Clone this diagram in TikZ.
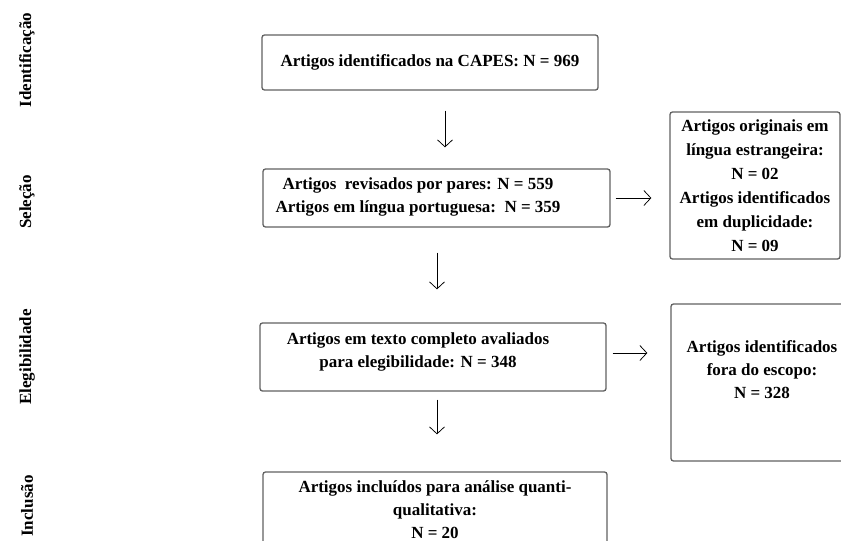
\documentclass[tikz,border=0pt]{standalone}
\usepackage{fontspec}
\setmainfont{Liberation Serif}
\usetikzlibrary{arrows.meta}
\tikzset{
box/.style={draw=black!62, line width=1.3pt, rounded corners=2.5pt, inner sep=0pt},
txt/.style={font=\bfseries\fontsize{17}{23}\selectfont, align=center, inner sep=0pt},
fase/.style={txt, rotate=90},
seta/.style={line width=0.75pt, -{Straight Barb[length=7pt,width=15pt]}}
}

\begin{document}
\begin{tikzpicture}[x=1pt,y=-1pt]

            \useasboundingbox (0,0) rectangle (841,541);
            \clip (0,0) rectangle (841,541);

            % fases
            \node [fase] (fase1) at (27,60) {Identificação};
            \node [fase] (fase2) at (27,202) {Seleção};
            \node [fase] (fase3) at (27,357) {Elegibilidade};
            \node [fase] (fase4) at (27,506) {Inclusão};

            % coluna central
            \node [box, txt, minimum width=336pt, minimum height=55pt]
            (capes) at (430,62.5) {Artigos identificados na CAPES: N = 969};
            \node [box, minimum width=347pt, minimum height=58pt]
            (pares) at (436.5,198) {};
            \node [txt] (parestxt) at (418,196.5)
            {Artigos\ \ revisados por pares: N = 559\\
            Artigos em língua portuguesa:\ \ N = 359};
            \node [box, minimum width=346pt, minimum height=68pt]
            (elig) at (433,357) {};
            \node [txt] (eligtxt) at (418,351.5)
            {Artigos em texto completo avaliados\\para elegibilidade: N = 348};
            \node [box, txt, minimum width=344pt, minimum height=75pt]
            (incl) at (435,509.5)
            {Artigos incluídos para análise quanti-\\qualitativa:\\N = 20};

            % exclusoes
            \node [box, txt, minimum width=170pt, minimum height=147pt]
            (estrang) at (755,185.5)
            {Artigos originais em\\[1pt]língua estrangeira:\\[1pt]N = 02\\[1pt]
            Artigos identificados\\[1pt]em duplicidade:\\[1pt]N = 09};
            \node [box, minimum width=177pt, minimum height=157pt]
            (escopo) at (759.5,382.5) {};
            \node [txt] (escopotxt) at (762,370)
            {Artigos identificados\\fora do escopo:\\N = 328};

            % setas
            \draw [seta] ([xshift=15pt,yshift=-20pt]capes.south)
            -- ([xshift=8.5pt,yshift=21pt]pares.north);
            \draw [seta] ([xshift=0.5pt,yshift=-25pt]pares.south)
            -- ([xshift=4pt,yshift=33pt]elig.north);
            \draw [seta] ([xshift=4pt,yshift=-8pt]elig.south)
            -- ([xshift=2pt,yshift=37pt]incl.north);
            \draw [seta, shorten <=5pt, shorten >=18pt]
            (pares.east) -- (pares.east -| estrang.west);
            \draw [seta, shorten <=6pt, shorten >=23pt]
            ([yshift=4pt]elig.east) -- ([yshift=4pt]elig.east -| escopo.west);

        \end{tikzpicture}
\end{document}
